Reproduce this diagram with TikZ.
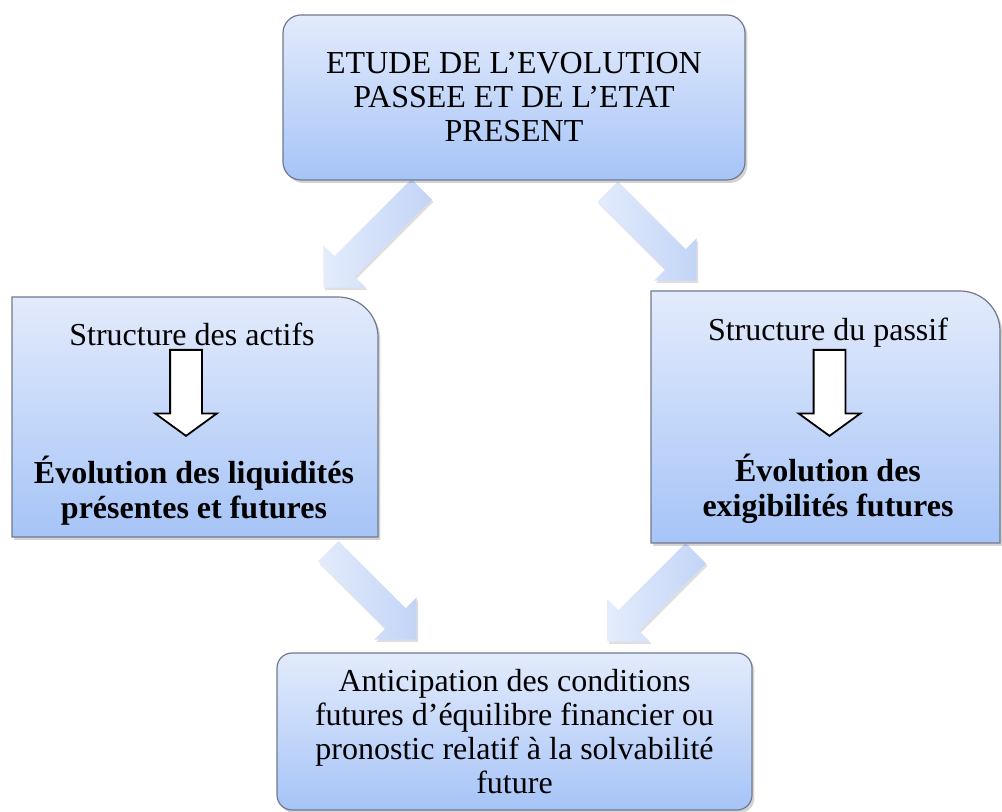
\documentclass[tikz,border=0pt]{standalone}
\usepackage{fontspec}
\setmainfont{Liberation Serif}
\usetikzlibrary{shapes.arrows,shadows}

\definecolor{boxtop}{RGB}{227,235,252}
\definecolor{boxbot}{RGB}{166,196,247}
\definecolor{boxline}{RGB}{112,122,140}
\definecolor{flowtail}{RGB}{228,236,252}
\definecolor{flowhead}{RGB}{194,212,246}

\tikzset{
  panel/.style={draw=boxline, line width=0.6pt, top color=boxtop, bottom color=boxbot,
    drop shadow={shadow xshift=1.2pt, shadow yshift=-1.5pt, opacity=0.35}},
  flow/.style={single arrow, single arrow tip angle=90, single arrow head extend=7.75pt,
    inner xsep=0pt, inner ysep=7pt, minimum width=0pt, anchor=tip,
    left color=flowtail, right color=flowhead,
    drop shadow={shadow xshift=0.8pt, shadow yshift=-1.2pt, opacity=0.25}},
  hollow/.style={single arrow, single arrow tip angle=108, single arrow head extend=7.5pt,
    inner xsep=0pt, inner ysep=7.5pt, minimum width=0pt, minimum height=43pt,
    draw=black, line width=0.9pt, fill=white, rotate=-90, anchor=tip},
  txt/.style={align=center, font=\fontsize{16}{17}\selectfont},
  bold/.style={align=center, font=\fontsize{16}{17.5}\selectfont\bfseries},
}

\begin{document}
\begin{tikzpicture}[x=0.5pt,y=0.5pt]
  \useasboundingbox (0,0) rectangle (1002,-812);

  % big arrows between the boxes
  \node[flow, rotate=-135, minimum height=69.5pt] (f1) at (323,-288) {};
  \node[flow, rotate=-45, minimum height=63pt] (f2) at (697,-281) {};
  \node[flow, rotate=-45, minimum height=62.5pt] (f3) at (417,-640) {};
  \node[flow, rotate=-135, minimum height=62.5pt] (f4) at (607,-642) {};

  % top and bottom boxes
  \node[panel, txt, rounded corners=9pt, minimum width=231pt, minimum height=82.5pt] (etude) at (514,-97.5)
    {ETUDE DE L’EVOLUTION\\PASSEE ET DE L’ETAT\\PRESENT};
  \node[panel, txt, rounded corners=7.5pt, minimum width=237.5pt, minimum height=78.5pt] (anticip) at (514.5,-731.5)
    {Anticipation des conditions\\futures d’équilibre financier ou\\pronostic relatif à la solvabilité\\future};

  % side boxes, one corner rounded
  \path[panel] (12,-537) -- (12,-297) -- (338,-297) arc[start angle=90, end angle=0, radius=40] -- (378,-537) -- cycle;
  \path[panel] (651,-543) -- (651,-291) -- (960,-291) arc[start angle=90, end angle=0, radius=40] -- (1000,-543) -- cycle;

  \node[txt] (actifs) at (192,-334) {Structure des actifs};
  \node[hollow] (down1) at (186,-437) {};
  \node[bold] (liquid) at (194,-491) {Évolution des liquidités\\présentes et futures};

  \node[txt] (passif) at (828,-333) {Structure du passif};
  \node[hollow] (down2) at (829.5,-437) {};
  \node[bold] (exig) at (828,-489) {Évolution des\\exigibilités futures};

\end{tikzpicture}
\end{document}
